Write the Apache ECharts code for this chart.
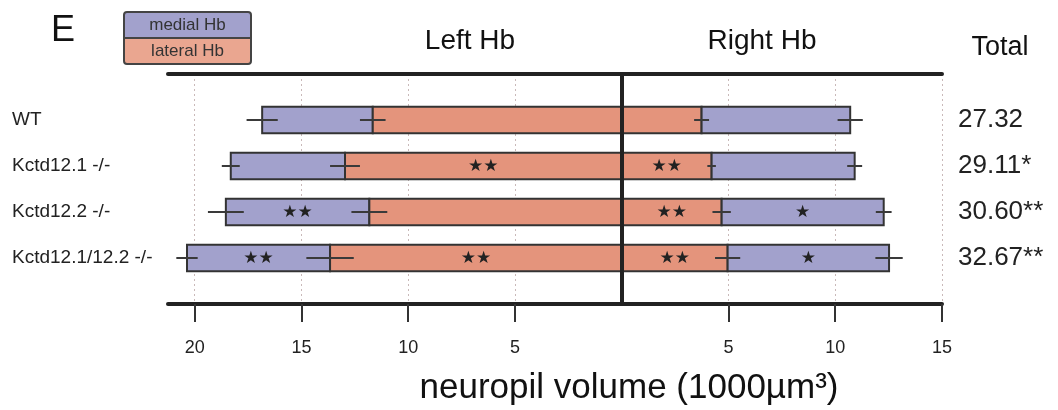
<!DOCTYPE html>
<html><head><meta charset="utf-8">
<script src="https://cdn.jsdelivr.net/npm/echarts@6/dist/echarts.min.js"></script>
<style>html,body{margin:0;padding:0;background:#fff}#c{width:1058px;height:410px}</style>
</head><body><div id="c"></div>
<script>
const categories = ['WT', 'Kctd12.1 -/-', 'Kctd12.2 -/-', 'Kctd12.1/12.2 -/-'];
const totals = ['27.32', '29.11*', '30.60**', '32.67**'];
const leftLateral = [11.66, 12.96, 11.82, 13.66];
const leftLateralErr = [0.60, 0.70, 0.84, 1.11];
const leftMedial = [5.18, 5.35, 6.72, 6.70];
const leftMedialErr = [0.73, 0.42, 0.84, 0.50];
const rightLateral = [3.74, 4.21, 4.68, 4.96];
const rightLateralErr = [0.35, 0.20, 0.43, 0.59];
const rightMedial = [6.96, 6.70, 7.59, 7.56];
const rightMedialErr = [0.59, 0.35, 0.37, 0.64];
const leftLateralSig = ['', '**', '', '**'];
const leftMedialSig = ['', '', '**', '**'];
const rightLateralSig = ['', '**', '**', '**'];
const rightMedialSig = ['', '', '*', '*'];
const xTickValues = [-20, -15, -10, -5, 5, 10, 15];

const medialColor = '#a2a1cc';
const lateralColor = '#e4947c';
const FONT = 'Liberation Sans, Arial, Helvetica, sans-serif';

const chart = echarts.init(document.getElementById('c'), null, {renderer: 'canvas'});

function starText(s) { return s.replace(/\*/g, '\u2605'); }

function renderItem(params, api) {
  const i = api.value(0);
  const y = api.value(1);
  const h = api.size([0, 1])[1] * 0.58;
  const children = [];
  function seg(a, b, color) {
    const p0 = api.coord([a, y]);
    const p1 = api.coord([b, y]);
    children.push({type: 'rect', shape: {x: Math.min(p0[0], p1[0]), y: p0[1] - h / 2, width: Math.abs(p1[0] - p0[0]), height: h},
      style: {fill: color, stroke: '#333', lineWidth: 2}});
  }
  function err(v, e) {
    const p0 = api.coord([v - e, y]);
    const p1 = api.coord([v + e, y]);
    children.push({type: 'line', shape: {x1: p0[0], y1: p0[1], x2: p1[0], y2: p1[1]}, style: {stroke: '#3a3a3a', lineWidth: 2}, z2: 5});
  }
  function sig(a, b, s) {
    if (!s) return;
    const p = api.coord([(a + b) / 2, y]);
    children.push({type: 'text', x: p[0], y: p[1] + 1, style: {text: starText(s), align: 'center', verticalAlign: 'middle', font: '17px DejaVu Sans', fill: '#222'}, z2: 6});
  }
  const ll = leftLateral[i], lm = leftMedial[i], rl = rightLateral[i], rm = rightMedial[i];
  seg(-ll - lm, -ll, medialColor);
  seg(-ll, 0, lateralColor);
  seg(0, rl, lateralColor);
  seg(rl, rl + rm, medialColor);
  err(-ll, leftLateralErr[i]);
  err(-ll - lm, leftMedialErr[i]);
  err(rl, rightLateralErr[i]);
  err(rl + rm, rightMedialErr[i]);
  sig(-ll, 0, leftLateralSig[i]);
  sig(-ll - lm, -ll, leftMedialSig[i]);
  sig(0, rl, rightLateralSig[i]);
  sig(rl, rl + rm, rightMedialSig[i]);
  return {type: 'group', children: children};
}

const option = {
  animation: false,
  textStyle: {fontFamily: FONT},
  grid: {left: 168, right: 116, top: 74, bottom: 106, containLabel: false},
  xAxis: [
    {type: 'value', position: 'bottom', min: -21.25, max: 15,
      axisLine: {onZero: false, lineStyle: {color: '#222', width: 4}},
      axisTick: {customValues: xTickValues, length: 18, lineStyle: {color: '#333', width: 2}},
      axisLabel: {customValues: xTickValues, formatter: v => String(Math.abs(v)), margin: 35, fontSize: 18, color: '#222', fontFamily: FONT},
      splitLine: {show: true, lineStyle: {color: '#c9b9b9', type: [2, 3], width: 1}}},
    {type: 'value', position: 'top', min: -21.25, max: 15,
      axisLine: {onZero: false, lineStyle: {color: '#222', width: 4}},
      axisTick: {show: false}, axisLabel: {show: false}, splitLine: {show: false}}
  ],
  yAxis: [
    {type: 'value', position: 'left', min: 0, max: 5, interval: 1, inverse: true,
      axisLine: {show: false, onZero: false}, axisTick: {show: false}, splitLine: {show: false},
      axisLabel: {formatter: v => categories[v - 1] || '', align: 'left', margin: 156, fontSize: 19, color: '#222', fontFamily: FONT}},
    {type: 'value', position: 'right', min: 0, max: 5, interval: 1, inverse: true,
      axisLine: {show: false, onZero: false}, axisTick: {show: false}, splitLine: {show: false},
      axisLabel: {formatter: v => totals[v - 1] || '', align: 'left', margin: 16, fontSize: 26, color: '#222', fontFamily: FONT}}
  ],
  series: [{
    type: 'custom', xAxisIndex: 0, yAxisIndex: 0,
    renderItem: renderItem,
    encode: {x: 2, y: 1},
    data: categories.map((c, i) => [i, i + 1, 0]),
    markLine: {silent: true, symbol: 'none', label: {show: false}, z: 10,
      lineStyle: {color: '#222', width: 4, type: 'solid'}, data: [{xAxis: 0}]}
  }],
  graphic: [
    {type: 'text', left: 51, top: 13, style: {text: 'E', font: '36px ' + FONT, fill: '#111'}},
    {type: 'group', left: 123, top: 11, children: [
      {type: 'rect', shape: {x: 0, y: 0, width: 127, height: 26, r: [3, 3, 0, 0]}, style: {fill: medialColor, stroke: '#444', lineWidth: 2}},
      {type: 'rect', shape: {x: 0, y: 26, width: 127, height: 26, r: [0, 0, 3, 3]}, style: {fill: '#eaa690', stroke: '#444', lineWidth: 2}},
      {type: 'text', x: 63.5, y: 13, style: {text: 'medial Hb', align: 'center', verticalAlign: 'middle', font: '17px ' + FONT, fill: '#333'}},
      {type: 'text', x: 63.5, y: 39, style: {text: 'lateral Hb', align: 'center', verticalAlign: 'middle', font: '17px ' + FONT, fill: '#333'}}
    ]},
    {type: 'text', x: 470, y: 41, style: {text: 'Left Hb', align: 'center', verticalAlign: 'middle', font: '28px ' + FONT, fill: '#111'}},
    {type: 'text', x: 762, y: 41, style: {text: 'Right Hb', align: 'center', verticalAlign: 'middle', font: '28px ' + FONT, fill: '#111'}},
    {type: 'text', x: 1000, y: 48, style: {text: 'Total', align: 'center', verticalAlign: 'middle', font: '27px ' + FONT, fill: '#111'}},
    {type: 'text', x: 629, y: 388, style: {text: 'neuropil volume (1000\u00b5m\u00b3)', align: 'center', verticalAlign: 'middle', font: '35px ' + FONT, fill: '#111'}}
  ]
};
chart.setOption(option);
</script>
</body></html>
